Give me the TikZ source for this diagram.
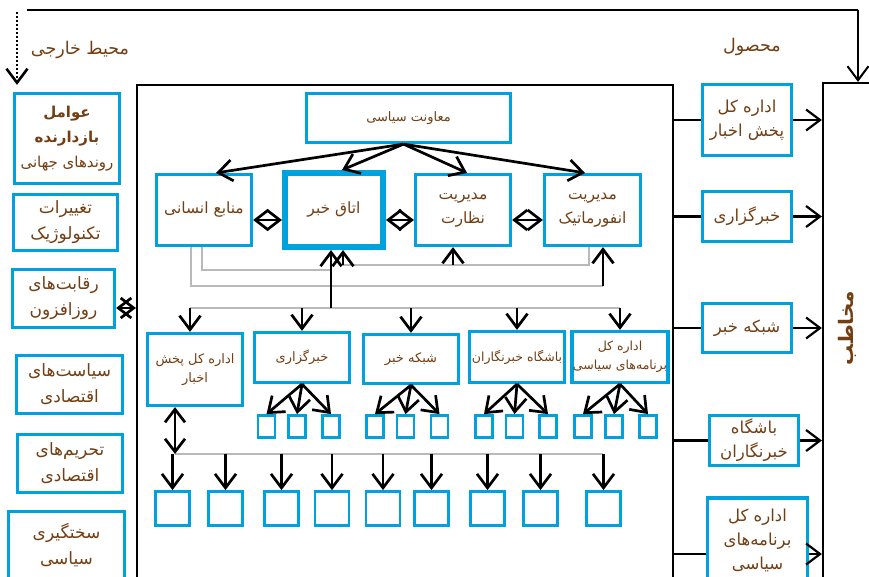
\documentclass[tikz,border=0pt]{standalone}
\usepackage{fontspec}
\newfontfamily\arabicfont[Script=Arabic]{DejaVu Sans}
\TeXXeTstate=1
\usetikzlibrary{arrows.meta}
\definecolor{BoxClr}{RGB}{0,162,222}
\definecolor{TxtClr}{RGB}{115,62,18}
\definecolor{BusClr}{RGB}{185,185,185}
\newcommand{\fa}[1]{\beginR #1\endR}
\newcommand{\zw}{\char"200C\relax}

\begin{document}
\begin{tikzpicture}[x=1pt,y=-1pt,
  box/.style={draw=BoxClr,line width=3.2pt,text=TxtClr,align=center,inner sep=1pt,
    font=\arabicfont\fontsize{17}{26}\selectfont},
  outb/.style={box,font=\arabicfont\fontsize{16.5}{24}\selectfont},
  topb/.style={box,font=\arabicfont\fontsize{15.5}{24}\selectfont},
  mid/.style={box,font=\arabicfont\fontsize{13}{19}\selectfont},
  sq/.style={draw=BoxClr,line width=2.8pt,minimum width=17pt,minimum height=22pt,inner sep=0pt},
  bsq/.style={draw=BoxClr,line width=2.8pt,minimum width=34pt,minimum height=34pt,inner sep=0pt},
  lbl/.style={text=TxtClr,inner sep=0pt,font=\arabicfont\fontsize{17.5}{18}\selectfont},
  arr/.style={line width=2.7pt,-{Straight Barb[length=14pt,width=21pt]}},
  darr/.style={line width=2.7pt,{Straight Barb[length=13pt,width=20pt]}-{Straight Barb[length=13pt,width=20pt]}},
  bus/.style={draw=BusClr,line width=1.3pt}]
\useasboundingbox (0,0) rectangle (869,577);

\node[lbl] (env) at (80,50) {\fa{محیط خارجی}};
\node[lbl] (prod) at (752,47) {\fa{محصول}};

\node[box,minimum width=105pt,minimum height=90pt,font=\arabicfont\fontsize{15}{25}\selectfont] (fac1) at (67,138.5)
  {{\bfseries\fa{عوامل}}\\{\bfseries\fa{بازدارنده}}\\\fa{روندهای جهانی}};
\node[box,minimum width=104pt,minimum height=56pt] (fac2) at (65.5,222.5) {\fa{تغییرات}\\\fa{تکنولوژیک}};
\node[box,minimum width=102pt,minimum height=58pt] (fac3) at (63.5,298.5) {\fa{رقابت\zw های}\\\fa{روزافزون}};
\node[box,minimum width=106pt,minimum height=58pt] (fac4) at (69.5,384.5) {\fa{سیاست\zw های}\\\fa{اقتصادی}};
\node[box,minimum width=105pt,minimum height=58pt] (fac5) at (70,463.5) {\fa{تحریم\zw های}\\\fa{اقتصادی}};
\node[box,minimum width=116pt,minimum height=67pt] (fac6) at (66.5,545) {\fa{سختگیری}\\\fa{سیاسی}};

\node[draw,line width=2.2pt,minimum width=536pt,minimum height=520pt] (org) at (405,345) {};
\node[draw,line width=2.2pt,minimum width=100pt,minimum height=540pt] (aud) at (873,353) {};
\node[lbl,rotate=90,font=\arabicfont\bfseries\fontsize{20}{22}\selectfont] (audt) at (847,328) {\fa{مخاطب}};

\node[outb,minimum width=89pt,minimum height=71pt] (out1) at (747,120) {\fa{اداره کل}\\\fa{پخش اخبار}};
\node[outb,minimum width=89pt,minimum height=50pt] (out2) at (747,216.5) {\fa{خبرگزاری}};
\node[outb,minimum width=89pt,minimum height=49pt] (out3) at (747,328) {\fa{شبکه خبر}};
\node[outb,minimum width=89pt,minimum height=50pt] (out4) at (754,440.5) {\fa{باشگاه}\\\fa{خبرنگاران}};
\node[outb,minimum width=100pt,minimum height=84pt] (out5) at (757.5,540) {\fa{اداره کل}\\\fa{برنامه\zw های}\\\fa{سیاسی}};

\node[box,minimum width=204pt,minimum height=49pt,font=\arabicfont\fontsize{13}{14}\selectfont] (vp) at (408.5,118) {\fa{معاونت سیاسی}};
\node[topb,minimum width=95pt,minimum height=71pt] (hr) at (204,210) {\fa{منابع انسانی}};
\node[topb,line width=5pt,minimum width=99pt,minimum height=75pt] (nr) at (334,210) {\fa{اتاق خبر}};
\draw[BoxClr,line width=1.3pt] ([shift={(5.5,5.5)}]nr.north west) rectangle ([shift={(-5.5,-5.5)}]nr.south east);
\node[topb,minimum width=95pt,minimum height=71pt] (sup) at (463,210) {\fa{مدیریت}\\\fa{نظارت}};
\node[topb,minimum width=96pt,minimum height=71pt] (inf) at (592.5,210) {\fa{مدیریت}\\\fa{انفورماتیک}};

\node[mid,minimum width=95pt,minimum height=72pt] (dist) at (195,369.5) {\fa{اداره کل پخش}\\\fa{اخبار}};
\node[mid,minimum width=95pt,minimum height=50pt] (agn) at (302,357.5) {\fa{خبرگزاری}};
\node[mid,minimum width=95pt,minimum height=49pt] (net) at (411,359) {\fa{شبکه خبر}};
\node[mid,minimum width=95pt,minimum height=51pt,font=\arabicfont\fontsize{12.5}{19}\selectfont] (club) at (517,357) {\fa{باشگاه خبرنگاران}};
\node[mid,minimum width=95pt,minimum height=51pt,font=\arabicfont\fontsize{12.5}{19}\selectfont] (prog) at (620,357) {\fa{اداره کل}\\\fa{برنامه\zw های سیاسی}};

\foreach \n/\x in {1/266.5,2/297,3/331,4/375,5/405.5,6/439.5,7/484,8/514.5,9/548,10/583,11/614,12/648}
  \node[sq] (s\n) at (\x,426.5) {};
\foreach \n/\x in {1/172.5,2/225.5,3/281.5,4/332,5/383,6/431.5,7/487.5,8/540.5,9/603.5}
  \node[bsq] (q\n) at (\x,508.5) {};

\coordinate (tl) at (27,10);
\coordinate (tr) at (858,10);
\coordinate (dt) at (17,12);
\coordinate (c3) at (127,308);
\coordinate (b1) at (190,308);
\coordinate (b1e) at (620,308);
\coordinate (b2) at (175,454);
\coordinate (b2e) at (603,454);
\coordinate (p5) at (700,554);

\draw[line width=1.4pt] (tl) -- (tr);
\draw[arr,line width=2pt] (tr) -- (tr |- aud.north);
\draw[arr,line width=2.6pt,dash pattern=on 2pt off 2pt,shorten >=7pt] (dt) -- (dt |- fac1.north);
\draw[darr] (fac3.east |- c3) -- (org.west |- c3);

\draw[line width=2.2pt] (org.east |- out1.west) -- (out1.west);
\draw[line width=2.2pt] (org.east |- out2.west) -- (out2.west);
\draw[line width=2.2pt] (org.east |- out3.west) -- (out3.west);
\draw[line width=2.2pt] (org.east |- out4.west) -- (out4.west);
\draw[line width=2.2pt] (org.east |- p5) -- (out5.west |- p5);
\draw[arr,line width=2.2pt] (out1.east) -- (aud.west |- out1.east);
\draw[arr,line width=2.2pt] (out2.east) -- (aud.west |- out2.east);
\draw[arr,line width=2.2pt] (out3.east) -- (aud.west |- out3.east);
\draw[arr,line width=2.2pt] (out4.east) -- (aud.west |- out4.east);
\draw[arr,line width=2.2pt] (out5.east |- p5) -- (aud.west |- p5);

\draw[arr] ([xshift=-5pt]vp.south) -- ([xshift=12pt]hr.north);
\draw[arr] ([xshift=-5pt]vp.south) -- ([xshift=8pt]nr.north);
\draw[arr] ([xshift=-5pt]vp.south) -- ([xshift=4pt]sup.north);
\draw[arr] ([xshift=-5pt]vp.south) -- ([xshift=-7.5pt]inf.north);
\draw[darr] ([yshift=-10pt]hr.east) -- ([yshift=-10pt]nr.west);
\draw[darr] ([yshift=-10pt]nr.east) -- ([yshift=-10pt]sup.west);
\draw[darr] ([yshift=-10pt]sup.east) -- ([yshift=-10pt]inf.west);

\draw[bus] ([xshift=-2pt]hr.south) |- (331,270);
\draw[bus] ([xshift=-13pt]hr.south) |- (603,286);
\draw[bus] ([xshift=-3.5pt]inf.south) |- (343,265);
\draw[bus] (b1) -- (b1e);
\draw[arr] ([xshift=-3pt]nr.south |- b1) -- ([xshift=-3pt]nr.south);
\draw[arr] ([xshift=9pt]nr.south |- 0,265) -- ([xshift=9pt]nr.south);
\draw[arr] ([xshift=-10pt]sup.south |- 0,265) -- ([xshift=-10pt]sup.south);
\draw[arr] ([xshift=10.5pt]inf.south |- 0,286) -- ([xshift=10.5pt]inf.south);

\draw[arr] ([xshift=-5pt]dist.north |- b1) -- ([xshift=-5pt]dist.north);
\draw[arr] (agn.north |- b1) -- (agn.north);
\draw[arr] (net.north |- b1) -- (net.north);
\draw[arr] (club.north |- b1) -- (club.north);
\draw[arr] (prog.north |- b1) -- (prog.north);

\foreach \p/\a/\b/\c in {agn/1/2/3,net/4/5/6,club/7/8/9,prog/10/11/12}{
  \draw[arr] (\p.south) -- (s\a.north);
  \draw[arr] (\p.south) -- (s\b.north);
  \draw[arr] (\p.south) -- (s\c.north);
}

\draw[bus] (b2) -- (b2e);
\draw[darr] ([xshift=-20pt]dist.south) -- ([xshift=-20pt]dist.south |- b2);
\foreach \n in {1,...,9}
  \draw[arr] (q\n.north |- b2) -- (q\n.north);

\end{tikzpicture}
\end{document}
